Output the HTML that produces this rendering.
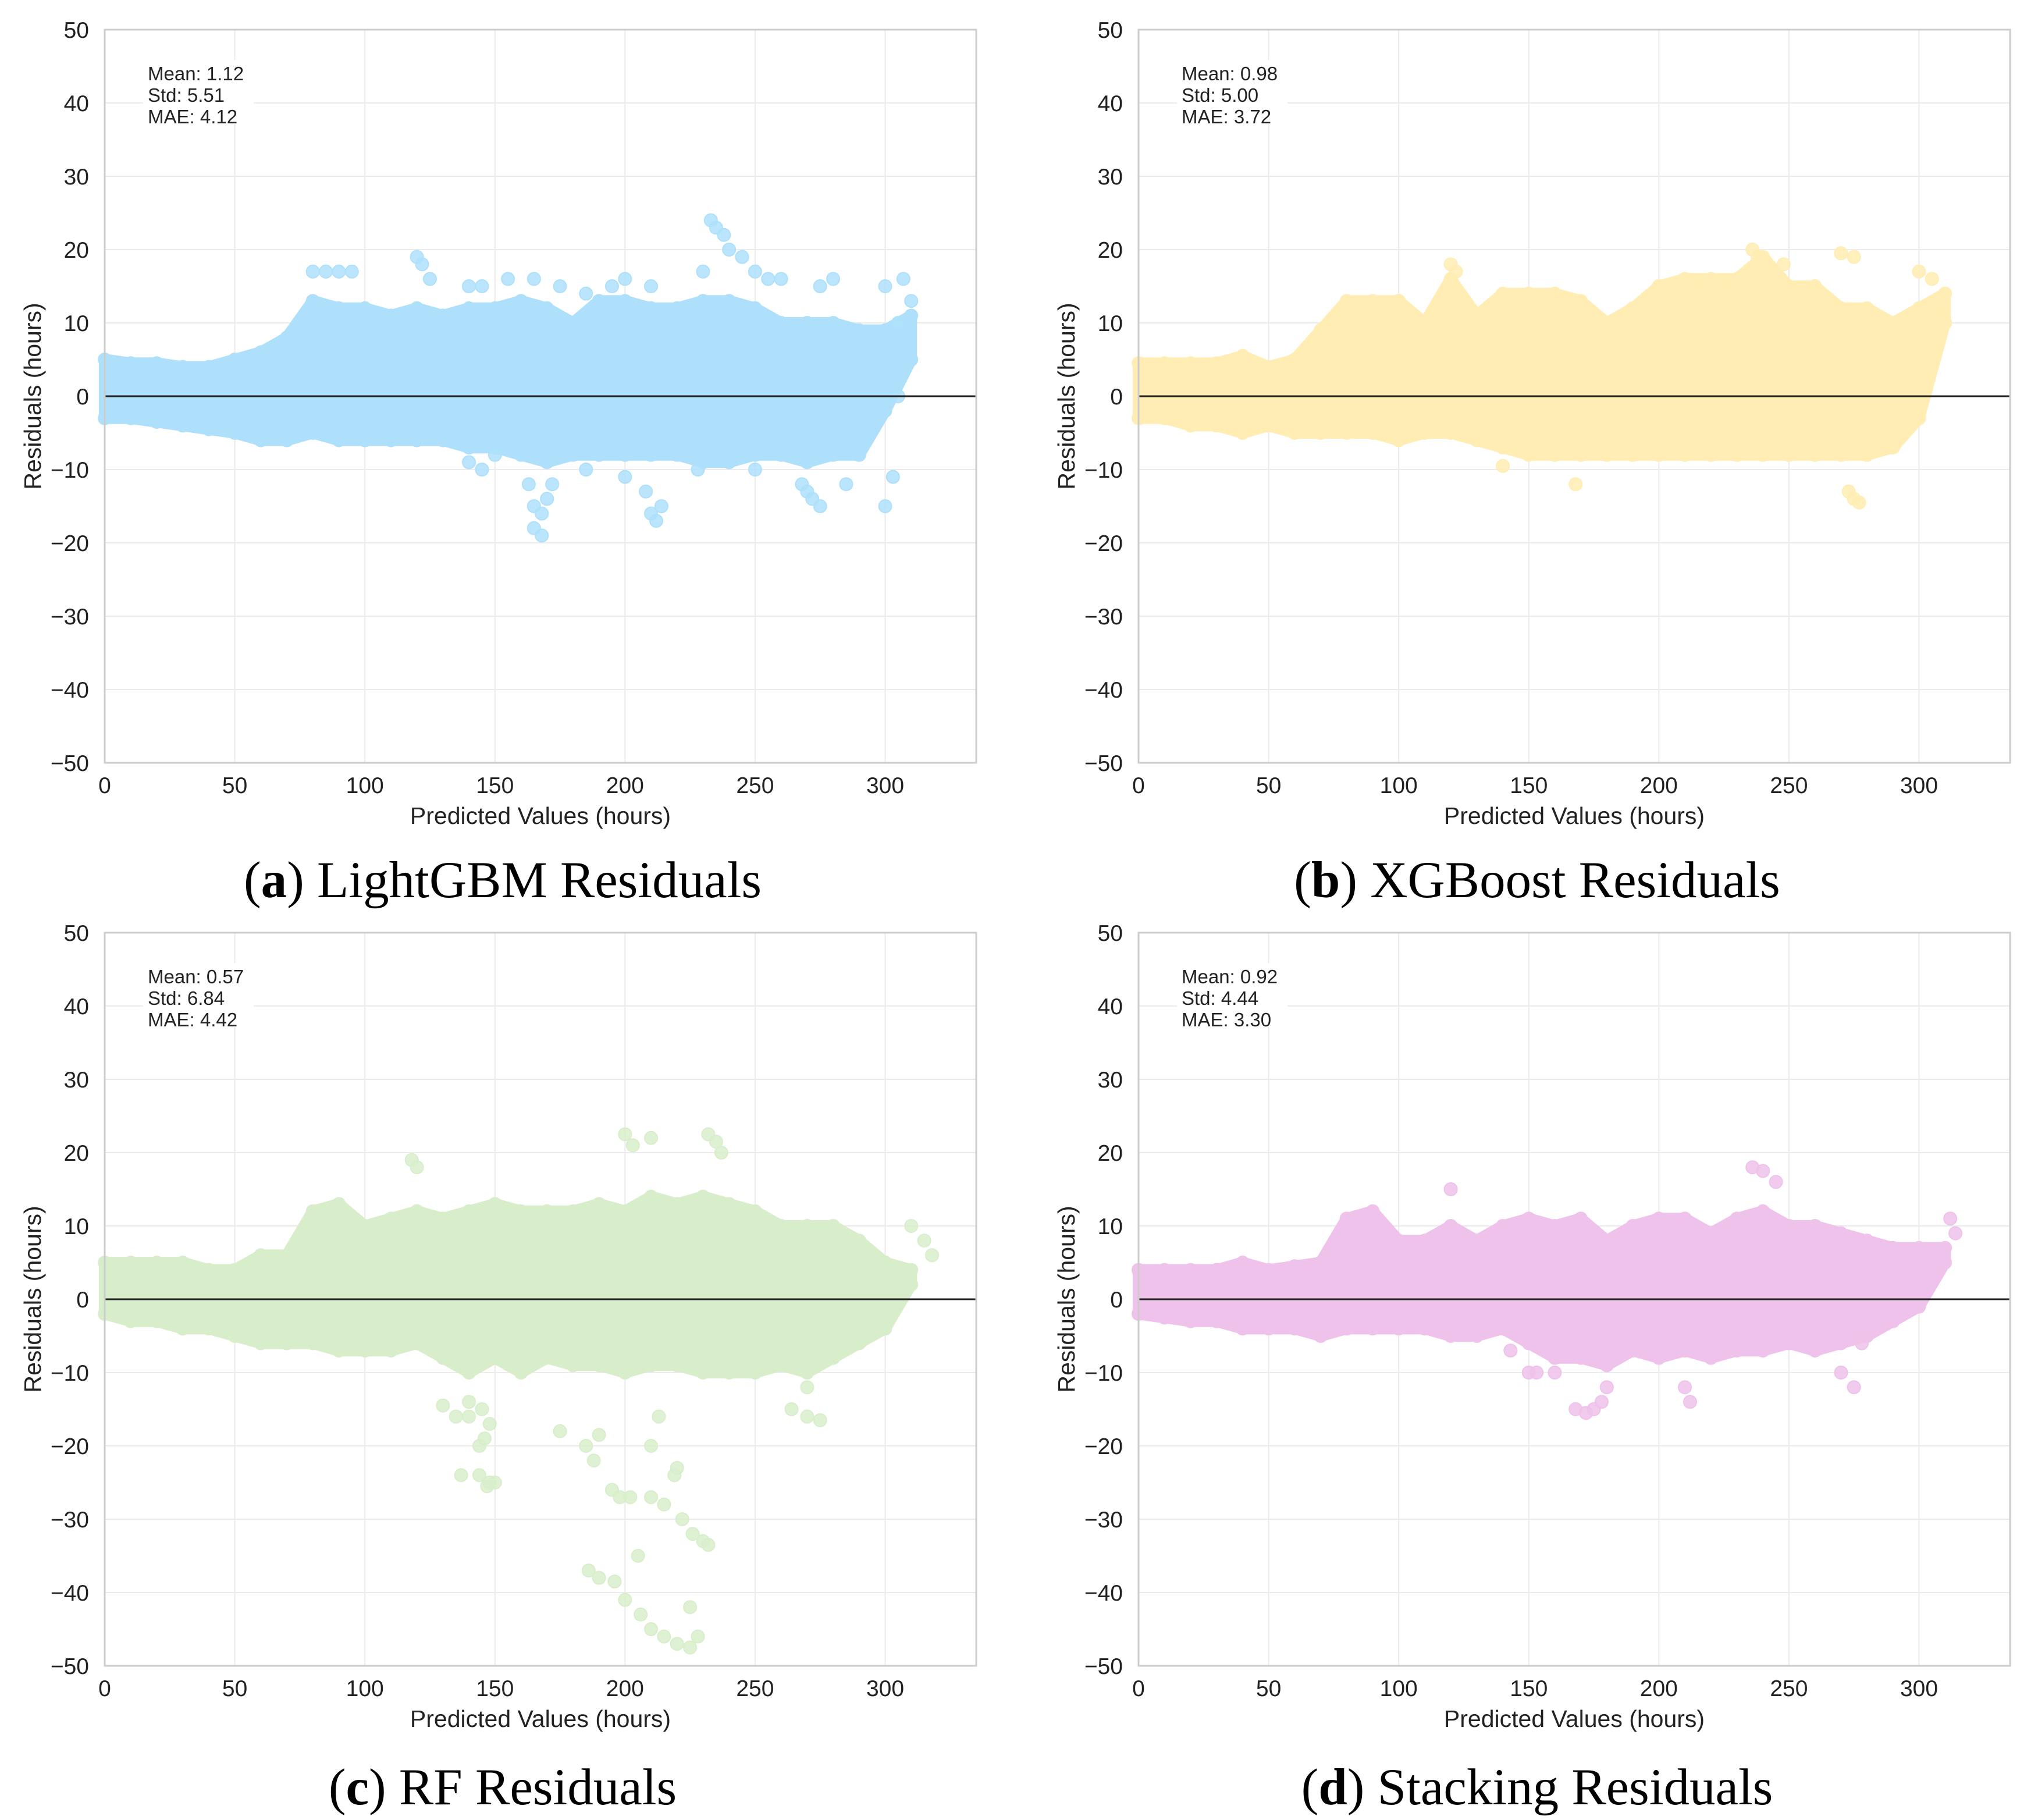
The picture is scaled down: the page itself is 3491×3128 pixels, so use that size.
<!DOCTYPE html>
<html><head><meta charset="utf-8"><style>
html,body{margin:0;padding:0;background:#fff;}
svg{display:block;}
text{font-family:"Liberation Sans",sans-serif;fill:#222;}
.cap{font-family:"Liberation Serif",serif;fill:#000;}
</style></head><body>
<svg id="fig" width="3491" height="3128" viewBox="0 0 3491 3128" xmlns="http://www.w3.org/2000/svg"></svg>
<script>
const xBins=[0,10,20,30,40,50,60,70,80,90,100,110,120,130,140,150,160,170,180,190,200,210,220,230,240,250,260,270,280,290,300,310];
const xTicks=[0,50,100,150,200,250,300];
const yTicks=[-50,-40,-30,-20,-10,0,10,20,30,40,50];
const titles=["LightGBM Residuals","XGBoost Residuals","RF Residuals","Stacking Residuals"];
const letters=["a","b","c","d"];
const stats=[["Mean: 1.12","Std: 5.51","MAE: 4.12"],["Mean: 0.98","Std: 5.00","MAE: 3.72"],["Mean: 0.57","Std: 6.84","MAE: 4.42"],["Mean: 0.92","Std: 4.44","MAE: 3.30"]];
const colors=["#aee0fb","#ffedb3","#d8eecb","#eec2ea"];
const upperA=[5,4.5,4.5,4,4,5,6,8,13,12,12,11,12,11,12,12,13,12,10,13,13,12,12,13,13,12,10,10,10,9,9,11];
const lowerA=[-3,-3,-3.5,-4,-4.5,-5,-6,-6,-5,-6,-6,-6,-6,-6,-7,-7,-8,-9,-8,-8,-8,-8,-8,-9,-9,-8,-8,-9,-8,-8,-2,5];
const upperB=[4.5,4.5,4.5,4.5,5.5,4,5,9,13,13,13,10,16,11,14,14,14,13,10,12,15,16,16,16,19,15,15,12,12,10,12,14];
const lowerB=[-3,-3,-4,-4,-5,-4,-5,-5,-5,-5,-6,-5,-5,-6,-7,-8,-8,-8,-8,-8,-8,-8,-8,-8,-8,-8,-8,-8,-8,-7,-3,10];
const upperC=[5,5,5,5,4,4,6,6,12,13,10,11,12,11,12,13,12,12,12,13,12,14,13,14,13,12,10,10,10,8,5,4];
const lowerC=[-2,-3,-3,-4,-4,-5,-6,-6,-6,-7,-7,-7,-6,-8,-10,-8,-10,-8,-9,-9,-10,-9,-9,-10,-10,-10,-9,-10,-8,-6,-4,2];
const upperD=[4,4,4,4,5,4,4.5,5,11,12,8,8,10,8,10,11,10,11,8,10,11,11,9,11,12,10,10,9,8,7,7,7];
const lowerD=[-2,-2.5,-3,-3,-4,-4,-4,-5,-4,-4,-4,-4,-5,-5,-4,-6,-8,-8,-9,-7,-8,-7,-8,-7,-7,-6,-7,-6,-5,-3,-1,5];
const outXA=[80,85,90,95,120,122,125,140,145,155,165,175,185,195,200,210,230,233,235,238,240,245,250,255,260,275,280,300,307,310,305,140,145,150,163,165,168,170,165,168,172,185,200,208,210,212,214,228,250,268,270,272,275,285,300,303,305];
const outYA=[17,17,17,17,19,18,16,15,15,16,16,15,14,15,16,15,17,24,23,22,20,19,17,16,16,15,16,15,16,13,10,-9,-10,-8,-12,-15,-16,-14,-18,-19,-12,-10,-11,-13,-16,-17,-15,-10,-10,-12,-13,-14,-15,-12,-15,-11,0];
const outXB=[120,122,140,168,236,238,248,270,275,300,305,273,275,277,145];
const outYB=[18,17,-9.5,-12,20,19,18,19.5,19,17,16,-13,-14,-14.5,-7];
const outXC=[118,120,210,200,203,232,235,237,130,135,140,140,145,148,137,144,147,150,144,146,175,185,188,190,195,198,202,210,215,222,226,230,232,219,220,186,190,196,200,206,210,215,220,225,228,205,225,210,213,264,270,275,270,148,310,315,318];
const outYC=[19,18,22,22.5,21,22.5,21.5,20,-14.5,-16,-14,-16,-15,-17,-24,-24,-25.5,-25,-20,-19,-18,-20,-22,-18.5,-26,-27,-27,-27,-28,-30,-32,-33,-33.5,-24,-23,-37,-38,-38.5,-41,-43,-45,-46,-47,-47.5,-46,-35,-42,-20,-16,-15,-16,-16.5,-12,-25,10,8,6];
const outXD=[120,236,240,245,143,150,153,160,168,172,175,178,180,210,212,275,270,278,312,314];
const outYD=[15,18,17.5,16,-7,-10,-10,-10,-15,-15.5,-15,-14,-12,-12,-14,-12,-10,-6,11,9];
const uppers=[upperA,upperB,upperC,upperD], lowers=[lowerA,lowerB,lowerC,lowerD];
const outXs=[outXA,outXB,outXC,outXD], outYs=[outYA,outYB,outYC,outYD];

const NS="http://www.w3.org/2000/svg";
const svg=document.getElementById('fig');
function el(tag,attrs,parent,txt){const e=document.createElementNS(NS,tag);for(const k in attrs)e.setAttribute(k,attrs[k]);if(txt!==undefined)e.textContent=txt;(parent||svg).appendChild(e);return e;}
const panels=[{l:180,t:51},{l:1957,t:51},{l:180,t:1603},{l:1957,t:1603}];
const W=1498,H=1260,XMAX=335;
panels.forEach((p,i)=>{
  const g=el('g',{});
  
  
  const sx=v=>p.l+v/XMAX*W, sy=v=>p.t+(50-v)/100*H;
  xTicks.forEach(v=>{const ln=el('line',{x1:sx(v),x2:sx(v),y1:p.t,y2:p.t+H,stroke:'#ebebeb','stroke-width':2},g);
    const t=el('text',{x:sx(v),y:p.t+H+52,'text-anchor':'middle','font-size':39},g,String(v));});
  yTicks.forEach(v=>{const ln=el('line',{x1:p.l,x2:p.l+W,y1:sy(v),y2:sy(v),stroke:'#ebebeb','stroke-width':2},g);
    const t=el('text',{x:p.l-27,y:sy(v)+14,'text-anchor':'end','font-size':39},g,String(v).replace('-','\u2212'));});
  const up=uppers[i],lo=lowers[i],col=colors[i];
  let d='M'+xBins.map((x,k)=>sx(x)+','+sy(up[k])).join(' L');
  d+=' L'+xBins.map((x,k)=>sx(x)+','+sy(lo[k])).reverse().join(' L')+' Z';
  const band=el('path',{d:d,fill:col,stroke:col,'stroke-width':20,'stroke-linejoin':'round'},g);
  
  xBins.forEach((x,k)=>{[up[k],lo[k]].forEach(v=>{const c=el('circle',{cx:sx(x),cy:sy(v),r:12,fill:col},g);});});
  outXs[i].forEach((x,k)=>{const c=el('circle',{cx:sx(x),cy:sy(outYs[i][k]),r:11,fill:col,'fill-opacity':0.85,stroke:col,'stroke-width':2},g);});
  const z=el('line',{x1:p.l,x2:p.l+W,y1:sy(0),y2:sy(0),stroke:'#222','stroke-width':3},g);
  const fr=el('rect',{x:p.l,y:p.t,width:W,height:H,fill:'none',stroke:'#cccccc','stroke-width':3},g);
  const st=el('rect',{x:p.l+66,y:p.t+52,width:190,height:110,fill:'#fff'},g);
  stats[i].forEach((s,k)=>{const t=el('text',{x:p.l+74,y:p.t+87+k*37,'font-size':33},g,s);});
  const xl=el('text',{x:p.l+W/2,y:p.t+H+105,'text-anchor':'middle','font-size':41},g,'Predicted Values (hours)');
  const yl=el('text',{x:0,y:0,'text-anchor':'middle','font-size':41,transform:`translate(${p.l-110},${p.t+H/2}) rotate(-90)`},g,'Residuals (hours)');
  const cx=(i%2===0)?864:2642, cy=(i<2)?1542:3101;
  const cap=el('text',{x:cx,y:cy,'text-anchor':'middle','font-size':89,class:'cap'},g);
  
  el('tspan',{},cap,'(');el('tspan',{'font-weight':'bold'},cap,letters[i]);el('tspan',{},cap,') '+titles[i]);
});
</script>
</body></html>
